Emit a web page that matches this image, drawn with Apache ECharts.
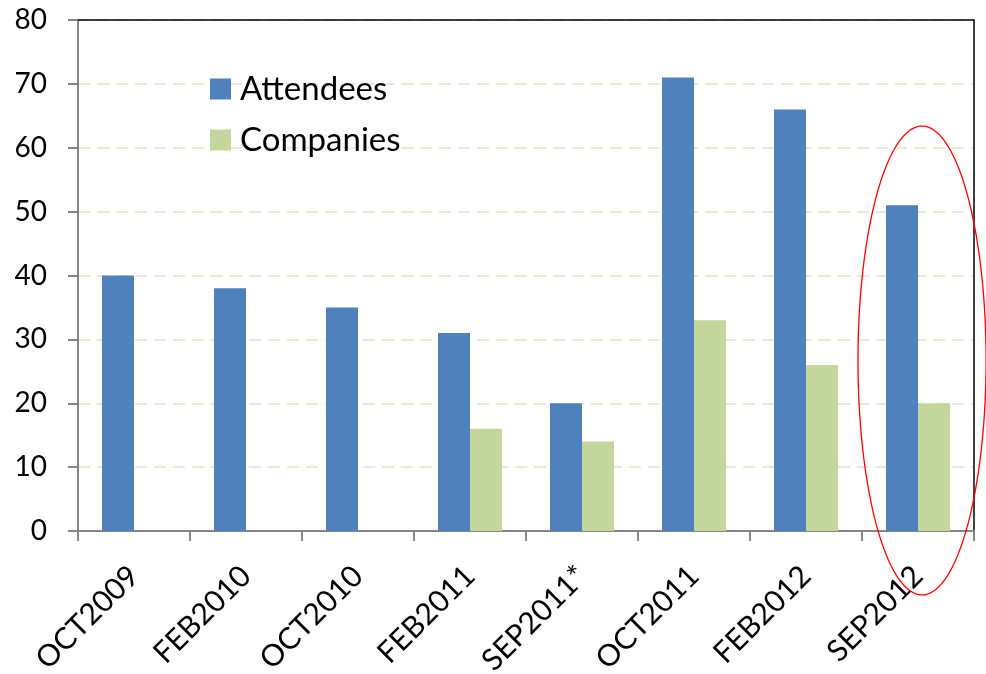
<!DOCTYPE html>
<html><head><meta charset="utf-8">
<script src="https://cdn.jsdelivr.net/npm/echarts@6/dist/echarts.min.js"></script>
<style>html,body{margin:0;padding:0;background:#fff}#c{width:986px;height:674px}</style>
</head><body><div id="c"></div>
<script>
var categories = ['OCT2009','FEB2010','OCT2010','FEB2011','SEP2011*','OCT2011','FEB2012','SEP2012'];
var attendees = [40,38,35,31,20,71,66,51];
var companies = [null,null,null,16,14,33,26,20];
var yTicks = [0,10,20,30,40,50,60,70,80];

var FONT = 'Lato';
var chart = echarts.init(document.getElementById('c'), null, {renderer:'canvas'});
chart.setOption({
  animation:false,
  backgroundColor:'#fff',
  grid:{left:78,right:12,top:20,bottom:143,containLabel:false,outerBoundsMode:'none'},
  legend:{
    orient:'vertical',left:205,top:67,itemWidth:21,itemHeight:21,itemGap:17,
    icon:'rect',
    textStyle:{fontFamily:FONT,fontSize:33,color:'#000',lineHeight:34,padding:[0,0,0,4]},
    data:['Attendees','Companies']
  },
  xAxis:[{
    type:'category',data:categories,boundaryGap:true,
    axisLine:{lineStyle:{color:'#868686',width:2}},
    axisTick:{show:true,length:10,interval:0,lineStyle:{color:'#868686',width:2}},
    axisLabel:{interval:0,rotate:45,margin:40,fontFamily:FONT,fontSize:30,color:'#000'}
  },{
    type:'category',data:categories,position:'top',boundaryGap:true,
    axisLine:{show:true,onZero:false,lineStyle:{color:'#000',width:1.5}},
    axisTick:{show:false},axisLabel:{show:false},splitLine:{show:false}
  }],
  yAxis:[{
    type:'value',min:yTicks[0],max:yTicks[yTicks.length-1],interval:10,
    axisLine:{show:true,lineStyle:{color:'#868686',width:2}},
    axisTick:{show:true,length:10,lineStyle:{color:'#868686',width:2}},
    axisLabel:{margin:31,fontFamily:FONT,fontSize:28,color:'#000'},
    splitLine:{show:true,lineStyle:{color:'#ebebd5',width:2,type:[12,7]}}
  },{
    type:'value',min:yTicks[0],max:yTicks[yTicks.length-1],interval:10,position:'right',
    axisLine:{show:true,onZero:false,lineStyle:{color:'#000',width:1.5}},
    axisTick:{show:false},axisLabel:{show:false},splitLine:{show:false}
  }],
  series:[
    {name:'Attendees',type:'bar',data:attendees,barWidth:32,barGap:'0%',itemStyle:{color:'#4F81BD'}},
    {name:'Companies',type:'bar',data:companies,barWidth:32,barGap:'0%',itemStyle:{color:'#C3D69B'}}
  ]
});
// annotation ellipse around the last category
var c = chart.convertToPixel({xAxisIndex:0,yAxisIndex:0},[categories.length-1,26.7]);
var x0 = chart.convertToPixel({xAxisIndex:0},0), x1 = chart.convertToPixel({xAxisIndex:0},1);
var y0 = chart.convertToPixel({yAxisIndex:0},0), y10 = chart.convertToPixel({yAxisIndex:0},10);
var cx = c[0] + (x1-x0)*0.036;
var rx = (x1-x0)*0.572, ry = (y0-y10)*3.67;
var pts=[];
for(var i=0;i<=180;i++){var t=i/180*Math.PI*2;pts.push([cx+rx*Math.cos(t),c[1]+ry*Math.sin(t)]);}
chart.setOption({graphic:[{type:'polyline',shape:{points:pts},style:{stroke:'#ff0000',lineWidth:1.3,fill:null},z:100,silent:true}]});
</script></body></html>
